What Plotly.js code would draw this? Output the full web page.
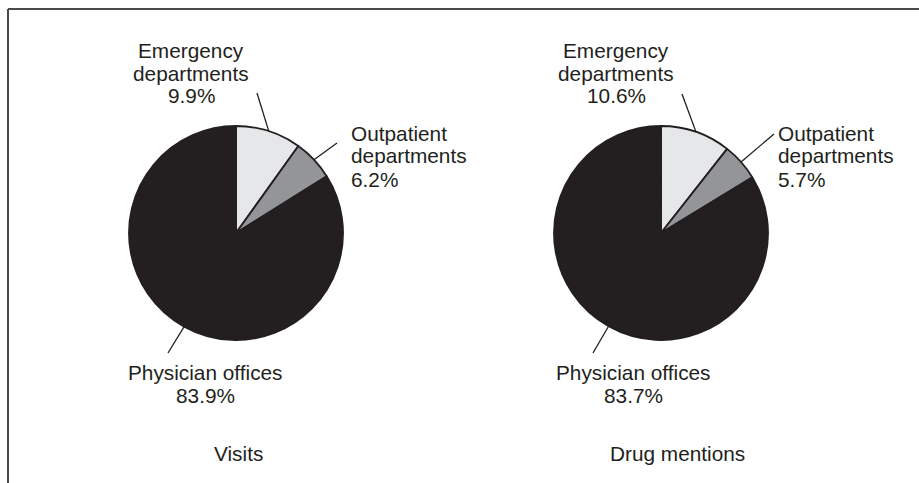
<!DOCTYPE html>
<html><head><meta charset="utf-8">
<script src="https://cdn.plot.ly/plotly-3.0.1.min.js"></script>
<style>html,body{margin:0;padding:0;background:#fff}</style>
</head><body><div id="chart" style="width:919px;height:483px"></div>
<script>
// ---- data ----
const categories = ["Emergency departments", "Outpatient departments", "Physician offices"];
const labelLines = [["Emergency", "departments"], ["Outpatient", "departments"], ["Physician offices"]];
const visitsValues = [9.9, 6.2, 83.9];
const drugMentionValues = [10.6, 5.7, 83.7];
const panelTitles = ["Visits", "Drug mentions"];

// ---- styling / layout ----
const W = 919, H = 483;
const sliceColors = ["#e6e7e8", "#939598", "#231f20"];
const ink = "#231f20";
const FONT = {family: "Liberation Sans, Arial, Helvetica, sans-serif", size: 20.8, color: ink};
const LINE_H = 23;

const panels = [
  {values: visitsValues, cx: 236, cy: 233, r: 107, titleX: 238,
   labels: [
     {x: 191, y: 50, anchor: "center", tail: [257, 93]},
     {x: 349, y: 133, anchor: "left", tail: [337, 143]},
     {x: 205, y: 372, anchor: "center", tail: [168, 353]}
   ]},
  {values: drugMentionValues, cx: 661, cy: 233, r: 107, titleX: 677,
   labels: [
     {x: 616, y: 50, anchor: "center", tail: [682, 94]},
     {x: 776, y: 133, anchor: "left", tail: [774, 134]},
     {x: 633, y: 372, anchor: "center", tail: [593, 353]}
   ]}
];
const titleY = 453;

const px = x => x / W;
const py = y => 1 - y / H;

const traces = [];
const annotations = [];
const shapes = [
  {type: "line", xref: "paper", yref: "paper", x0: px(8), y0: py(9), x1: px(919), y1: py(9), line: {color: "#4a4a4a", width: 2}},
  {type: "line", xref: "paper", yref: "paper", x0: px(8), y0: py(9), x1: px(8), y1: py(483), line: {color: "#4a4a4a", width: 2}}
];

panels.forEach((p, pi) => {
  traces.push({
    type: "pie",
    values: p.values,
    labels: categories,
    sort: false,
    direction: "clockwise",
    rotation: 0,
    textinfo: "none",
    hoverinfo: "label+percent",
    showlegend: false,
    marker: {colors: sliceColors, line: {color: ink, width: 1.8}},
    domain: {x: [px(p.cx - p.r), px(p.cx + p.r)], y: [py(p.cy + p.r), py(p.cy - p.r)]}
  });
  const total = p.values.reduce((a, b) => a + b, 0);
  let cum = 0;
  p.values.forEach((v, i) => {
    const ang = (cum + v / 2) / total * 2 * Math.PI;
    cum += v;
    const ex = p.cx + p.r * Math.sin(ang);
    const ey = p.cy - p.r * Math.cos(ang);
    const L = p.labels[i];
    shapes.push({type: "line", xref: "paper", yref: "paper",
      x0: px(L.tail[0]), y0: py(L.tail[1]), x1: px(ex), y1: py(ey),
      line: {color: ink, width: 1.3}});
    const lines = labelLines[i].concat([v.toFixed(1) + "%"]);
    lines.forEach((t, k) => {
      annotations.push({text: t, showarrow: false, xref: "paper", yref: "paper",
        x: px(L.x), y: py(L.y + k * LINE_H), xanchor: L.anchor, yanchor: "middle", font: FONT});
    });
  });
  annotations.push({text: panelTitles[pi], showarrow: false, xref: "paper", yref: "paper",
    x: px(p.titleX), y: py(titleY), xanchor: "center", yanchor: "middle", font: FONT});
});

const layout = {
  width: W, height: H,
  margin: {l: 0, r: 0, t: 0, b: 0},
  paper_bgcolor: "#ffffff", plot_bgcolor: "#ffffff",
  font: FONT,
  annotations: annotations,
  shapes: shapes
};
Plotly.newPlot("chart", traces, layout, {displayModeBar: false, staticPlot: true});
</script></body></html>
